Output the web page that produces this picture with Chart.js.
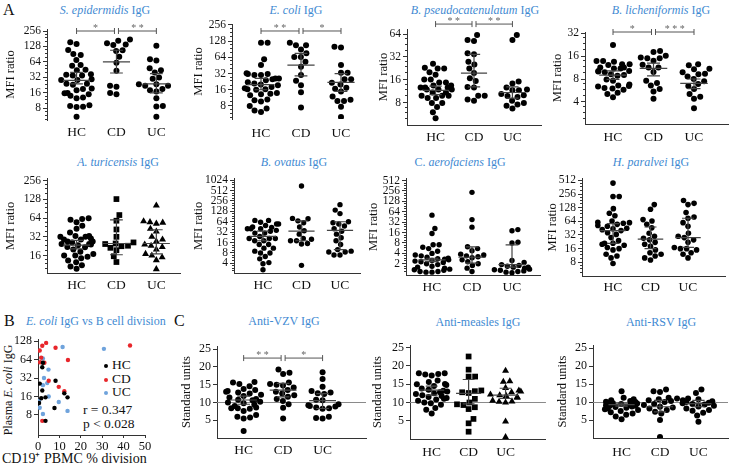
<!DOCTYPE html>
<html>
<head>
<meta charset="utf-8">
<script src="https://cdn.jsdelivr.net/npm/chart.js@4.4.0/dist/chart.umd.min.js"></script>
<style>
  body { margin: 0; background: #fff; }
  #stage { position: relative; width: 732px; height: 465px; overflow: hidden; font-family: 'Liberation Serif', 'Times New Roman', serif; color: #111; }
  #stage canvas { position: absolute; }
  .t { position: absolute; color: #3f8ad2; font-size: 12px; white-space: nowrap; transform: translate(-50%, -50%); }
  .tl { position: absolute; color: #3f8ad2; font-size: 12px; white-space: nowrap; transform: translate(0, -50%); }
  .lab { position: absolute; font-size: 16px; transform: translate(0, -50%); }
  .txt { position: absolute; font-size: 13.5px; white-space: nowrap; transform: translate(0, -50%); }
  .dot { display: inline-block; width: 4px; height: 4px; border-radius: 50%; margin-right: 4px; vertical-align: middle; }
  .yt { position: absolute; font-size: 12px; white-space: nowrap; transform: translate(-50%, -50%) rotate(-90deg); }
</style>
</head>
<body>
<div id="stage">
  <div class="lab" style="left:3px;top:10px">A</div>
  <div class="t" style="left:105px;top:10px"><i>S. epidermidis</i> IgG</div>
  <div class="t" style="left:296px;top:10px"><i>E. coli</i> IgG</div>
  <div class="t" style="left:475px;top:10px"><i>B. pseudocatenulatum</i> IgG</div>
  <div class="t" style="left:661px;top:10px"><i>B. licheniformis</i> IgG</div>
  <div class="t" style="left:118px;top:162px"><i>A. turicensis</i> IgG</div>
  <div class="t" style="left:294px;top:162px"><i>B. ovatus</i> IgG</div>
  <div class="t" style="left:460px;top:162px">C. <i>aerofaciens</i> IgG</div>
  <div class="t" style="left:651px;top:162px"><i>H. paralvei</i> IgG</div>
  <div class="lab" style="left:4px;top:321px">B</div>
  <div class="tl" style="left:26px;top:321px"><i>E. coli</i> IgG vs B cell division</div>
  <div class="lab" style="left:174px;top:321px">C</div>
  <div class="t" style="left:284px;top:321px">Anti-VZV IgG</div>
  <div class="t" style="left:478px;top:322px">Anti-measles IgG</div>
  <div class="t" style="left:661px;top:322px">Anti-RSV IgG</div>
  <div class="yt" style="left:8px;top:390px">Plasma <i>E. coli</i> IgG</div>
  <div class="txt" style="left:2px;top:457px;font-size:14px">CD19⁺ PBMC % division</div>
  <div class="txt" style="left:104px;top:365px"><span class="dot" style="background:#000"></span>HC</div>
  <div class="txt" style="left:104px;top:379px"><span class="dot" style="background:#e8262b"></span>CD</div>
  <div class="txt" style="left:104px;top:392px"><span class="dot" style="background:#6fa3dc"></span>UC</div>
  <div class="txt" style="left:83px;top:410px">r = 0.347</div>
  <div class="txt" style="left:83px;top:424px">p &lt; 0.028</div>
</div>
<script>
const groups = ['HC', 'CD', 'UC'];

// S. epidermidis
const sEpiHC = [154, 143, 109, 91, 87, 70, 56, 54, 45, 44, 37, 36, 35, 35, 29.5, 28.5, 28.5, 24, 24, 23, 19.5, 19, 18, 16, 15.8, 15, 14, 13, 12.6, 9.2, 8.9, 8.6, 8.5, 5.5];
const sEpiCD = [175, 166, 148, 140, 137, 108, 105, 81, 62, 43, 22, 21, 16, 15];
const sEpiUC = [132, 72, 68, 48, 44, 40, 32, 30, 23.5, 23.5, 22, 22, 19, 18, 17, 12.6, 8.9, 8.7, 5.5];
const sEpiBars = [[24, 28, 40], [39, 64, 108], [16, 24, 38]];
const sEpiSig = ['*', '**'];
const sEpiTicks = [8, 16, 32, 64, 128, 256];

// E. coli
const eColiHC = [120, 120, 59, 46, 32.6, 31.5, 31.5, 30, 30, 26, 26, 25, 24, 22, 21, 20, 19.5, 18, 17, 16.3, 16.3, 16, 14, 13.5, 13.2, 12.6, 10.5, 10.2, 9.7, 8, 7.2, 6.6, 6.2];
const eColiCD = [120, 108, 108, 90, 76, 65, 65, 53, 43, 30, 23.5, 19.5, 14.4, 7.5];
const eColiUC = [101, 98, 46, 33, 33, 25, 25, 21.5, 20, 17.5, 16.8, 14.8, 12, 10.4, 9.9, 9.9, 7.7, 5];
const eColiBars = [[16, 20, 26], [29, 46, 76], [15, 22, 32]];
const eColiSig = ['**', '*'];
const eColiTicks = [8, 16, 32, 64, 128, 256];

// B. pseudocatenulatum
const bPseHC = [26, 23.1, 22.6, 22.6, 20.1, 18.7, 16.2, 16.2, 14.8, 14.8, 13.5, 13.5, 12.7, 12.7, 12.7, 11.9, 11.9, 11.9, 10.9, 10.9, 9.9, 9.9, 9.9, 9.2, 9.2, 7.9, 7.9, 7.0, 6.0, 5.0];
const bPseCD = [62, 53.5, 52, 35.7, 34.7, 27.6, 25.5, 22.5, 19.6, 16.8, 15.4, 12.9, 12.7, 9.9, 9.9, 8.8, 8.5];
const bPseUC = [62, 53.5, 15.2, 14.3, 12.7, 11.9, 11.7, 11.7, 10.4, 10, 9.8, 9.5, 8.5, 7.9, 7.6, 7.3, 6.7];
const bPseBars = [[10.2, 11.6, 13.2], [12.9, 19.6, 34.5], [9.2, 10.9, 12.9]];
const bPseSig = ['**', '**'];
const bPseTicks = [8, 16, 32, 64];

// B. licheniformis
const bLicHC = [22.3, 13.8, 13.8, 13.5, 12.5, 12.5, 12.2, 11.3, 11.3, 11, 11, 10.2, 10.2, 10, 9.8, 9.2, 9, 8.8, 7.9, 7.6, 6.8, 6.6, 6.5, 6.4, 6.1, 6, 5.8, 5.3, 5.1, 4.6];
const bLicCD = [18.6, 18.1, 16.1, 15.3, 14.9, 14.9, 13.9, 12.3, 11.3, 11.3, 9.9, 7.6, 7.1, 6.6, 5.9, 5.5, 4.4];
const bLicUC = [12.5, 12.1, 10.9, 10.7, 9.8, 9.4, 9.2, 8.6, 8.0, 7.5, 6.9, 6.5, 5.9, 5.1, 4.7, 4.4, 3.3];
const bLicBars = [[7.9, 9, 10.2], [8.8, 11, 12.9], [6.0, 7.0, 8.0]];
const bLicSig = ['*', '***'];
const bLicTicks = [4, 8, 16, 32];

// A. turicensis
const aTurHC = [63.5, 62, 60, 55, 48, 43, 37.5, 33, 33, 32, 32, 30, 29, 29, 27, 27, 26, 24.5, 24.5, 24, 23.5, 22, 21.8, 20, 18.5, 17, 16, 16, 15.3, 14.5, 13.3, 12.5, 11.2, 10.7, 9.8];
const aTurCD = [129, 71.5, 58, 42, 32, 26, 25, 24.5, 23, 22.6, 21.3, 19.5, 15.6, 12.6];
const aTurUC = [102, 57, 55, 54, 52, 43, 39, 32, 29, 27, 24, 23, 22, 20, 17, 16, 15, 13.5, 9.7];
const aTurBars = [[20.5, 23.5, 28], [16.5, 25, 60], [17, 25, 41.5]];
const aTurTicks = [16, 32, 64, 128, 256];

// B. ovatus
const bOvaHC = [70, 70, 62, 55, 55, 50, 45, 44, 40, 40, 40, 36, 34, 30, 30, 24, 21, 21, 21, 18, 18, 14, 14, 11, 11, 9, 8, 8, 6.3, 5.4, 4.2, 3.9, 2.6];
const bOvaCD = [695, 80, 78, 68, 60, 45, 35, 28, 21, 20, 18, 18, 15, 14.5, 3.5];
const bOvaUC = [200, 139, 110, 64, 60, 55, 48, 40, 34, 28, 22, 18, 14, 10, 9, 8.5, 8.5, 7, 7];
const bOvaBars = [[18, 24, 34], [18, 34, 68], [10, 36, 64]];
const bOvaTicks = [4, 8, 16, 32, 64, 128, 256, 512, 1024];

// C. aerofaciens
const cAerHC = [51, 21, 15, 7.1, 7.1, 6, 5.5, 4.6, 4, 3.6, 3.4, 3.1, 2.9, 2.8, 2.7, 2.6, 2.5, 2.4, 2.3, 2.2, 2.0, 1.9, 1.7, 1.6, 1.5, 1.4, 1.35, 1.3, 1.2, 1.2, 1.15, 1.15];
const cAerCD = [233, 38, 23, 6.2, 5.5, 4.8, 3.8, 3.6, 3.4, 3.2, 3.0, 2.6, 2.3, 2.0, 1.8, 1.5, 1.2];
const cAerUC = [19.5, 18, 8.4, 8, 2.5, 2.2, 1.9, 1.8, 1.7, 1.6, 1.6, 1.5, 1.4, 1.35, 1.3, 1.25, 1.2, 1.15, 1.1];
const cAerBars = [[2.3, 2.6, 2.9], [2.1, 3.1, 6.2], [1.6, 1.9, 7.1]];
const cAerTicks = [2, 4, 8, 16, 32, 64, 128, 256, 512];

// H. paralvei
const hParHC = [448, 227, 227, 122, 97, 85, 65, 61, 60, 58, 55, 52, 50, 45, 44, 42, 40, 36, 33, 28, 24, 21, 21, 20, 19, 17, 16, 15, 12, 11, 10, 7.5];
const hParCD = [150, 118, 70, 65, 55, 46, 35, 30, 27, 25, 22, 20, 18, 15, 13, 12, 11, 10, 9];
const hParUC = [185, 160, 150, 100, 80, 75, 60, 50, 35, 30, 28, 25, 22, 17, 16, 16, 15, 13, 12, 10];
const hParBars = [[21, 40, 57], [16, 26, 48], [17, 28, 75]];
const hParTicks = [8, 16, 32, 64, 128, 256, 512];

// B: E. coli IgG vs CD19+ division
const divHCx = [2.3, 2, 0.8, 2, 3.5, 1.5, 0.5, 8.2, 12.3, 13.8, 7.7, 3.5];
const divHCy = [57, 48, 26, 20, 15.5, 15, 12.5, 29, 18, 15.5, 10.4, 6.4];
const divCDx = [0.8, 2, 3.8, 8.2, 1.5, 3, 1, 14, 5, 9.7, 12.3, 2, 43];
const divCDy = [90, 108, 120, 100, 69, 57, 58, 63, 29, 23, 19.5, 6.4, 109];
const divUCx = [11.5, 30.8, 2.3, 4.9, 2.8, 4.3, 2.3, 5, 0.5, 0.8, 9.7, 13.8, 2.3];
const divUCy = [103, 96, 67, 44, 32, 26.5, 24.5, 16, 13.5, 10.5, 13, 9.3, 8.3];
const divXTicks = [0, 10, 20, 30, 40, 50];
const divYTicks = [8, 16, 32, 64, 128];

// C: vaccine antigens
const vzvHC = [15.8, 15.6, 15.2, 14.6, 13.8, 13.5, 13.2, 13, 12.8, 12.5, 12.2, 11.8, 11.4, 11, 10.8, 10.6, 10.2, 10, 9.8, 9.4, 9, 8.6, 8.4, 8.4, 8.2, 7.6, 6.5, 6, 5.8, 5.5, 2];
const vzvCD = [19.3, 18.4, 18, 15.6, 15.2, 15, 14.8, 14.2, 13.5, 13, 12.5, 12, 11.6, 11, 10.4, 9.5, 8.5, 5.5];
const vzvUC = [18.5, 16.6, 14.4, 13.2, 12.8, 12.6, 12.4, 10.8, 10.6, 9.5, 9.2, 9, 8.9, 8.6, 8.4, 8.2, 6, 5.6, 5.5];
const vzvBars = [[9.5, 10.7, 11.8], [11.6, 13.5, 15.4], [8.3, 10.5, 12.5]];
const vzvSig = ['**', '*'];

const meaHC = [18, 18, 17.8, 17.7, 17.4, 16, 15.6, 15.1, 15, 14.8, 14.5, 13.8, 13.5, 13.2, 13, 12.8, 12.5, 12.3, 12, 11.8, 11.5, 11.2, 11, 10.8, 10.5, 10, 9.8, 9.4, 8.5, 8, 7];
const meaCD = [22.6, 19, 17.1, 17.1, 13.3, 13.1, 12.8, 12.6, 11, 10, 9.5, 9.3, 8.7, 8.2, 5.5, 4.3, 2];
const meaUC = [18.7, 15.8, 15.7, 14, 13.3, 13, 12.8, 12.2, 12, 11.8, 11.5, 11.3, 10.5, 10.3, 10.2, 10, 4.8, 0.5];
const meaBars = [[12, 13.4, 14.5], [9.6, 12.5, 16.3], [11.1, 12, 13.9]];

const rsvHC = [13, 11.2, 10.8, 10.5, 10.3, 10.1, 10, 9.9, 9.8, 9.7, 9.6, 9.5, 9.4, 9.3, 9.2, 9.1, 9, 8.9, 8.8, 8.6, 8.4, 8.2, 8, 7.8, 7.5, 7.2, 6.8, 6.5, 6, 5.2];
const rsvCD = [13.5, 13, 12.8, 11.2, 11, 10.8, 10.5, 10.3, 10, 9.5, 9.2, 8.7, 8.5, 8.2, 7.8, 7.3, 6.8, 5, 0.3];
const rsvUC = [13.5, 12.5, 11, 10.8, 10.5, 10.2, 10, 9.8, 9.7, 9.5, 9.3, 9, 8.8, 8.2, 7.8, 7.6, 7, 6.3, 4.5];
const rsvBars = [[8.9, 9.3, 9.7], [7.3, 8.7, 10.5], [8.7, 9.6, 10.5]];
const unitTicks = [5, 10, 15, 20, 25];

const FONT = "'Liberation Serif', 'Times New Roman', serif";
const circles = ['circle', 'circle', 'circle'];
const shapes = ['circle', 'rect', 'triangle'];

// layout of each small plot (pixels in the 732x465 page)
const panels = [
  { box: [0, 15, 185, 128], axisX: 47, top: 29, bottom: 120, right: 183, cat: [77, 116, 158], labelY: 132, min: 4.75, max: 280, ticks: sEpiTicks, tpad: 2.8, xLine: false, series: [sEpiHC, sEpiCD, sEpiUC], bars: sEpiBars, sig: sEpiSig, sigY: 256 },
  { box: [185, 15, 180, 128], axisX: 232, top: 24, bottom: 119, right: 358, cat: [261, 299, 341], labelY: 133, min: 4.58, max: 267, ticks: eColiTicks, tpad: 5.8, xLine: false, series: [eColiHC, eColiCD, eColiUC], bars: eColiBars, sig: eColiSig, sigY: 198 },
  { box: [365, 15, 180, 128], axisX: 407, top: 29, bottom: 125, right: 543, cat: [436, 472, 514], labelY: 137, min: 4.07, max: 74.6, ticks: bPseTicks, tpad: 10.8, xLine: true, series: [bPseHC, bPseCD, bPseUC], bars: bPseBars, sig: bPseSig, sigY: 86.6 },
  { box: [545, 15, 187, 128], axisX: 585, top: 32, bottom: 124, right: 728, cat: [613, 652, 694], labelY: 137, min: 2.06, max: 33, ticks: bLicTicks, tpad: 4.8, xLine: true, series: [bLicHC, bLicCD, bLicUC], bars: bLicBars, sig: bLicSig, sigY: 33 },
  { box: [0, 170, 185, 125], axisX: 47, top: 175, bottom: 273, right: 183, cat: [77, 117, 158], labelY: 285, min: 8.4, max: 272, ticks: aTurTicks, tpad: 2.8, xLine: true, series: [aTurHC, aTurCD, aTurUC], bars: aTurBars, shapes: shapes },
  { box: [185, 170, 180, 125], axisX: 234, top: 176, bottom: 273, right: 360, cat: [263, 302, 340], labelY: 285, min: 2.1, max: 1112, ticks: bOvaTicks, tpad: 5.8, xLine: true, series: [bOvaHC, bOvaCD, bOvaUC], bars: bOvaBars, r: 2.7 },
  { box: [365, 170, 180, 125], axisX: 406, top: 175, bottom: 275, right: 540, cat: [432, 471, 512], labelY: 287, min: 0.95, max: 570, ticks: cAerTicks, tpad: 0.8, xLine: true, series: [cAerHC, cAerCD, cAerUC], bars: cAerBars, r: 2.7 },
  { box: [545, 170, 187, 125], axisX: 582, top: 175, bottom: 276, right: 725, cat: [613, 650, 688], labelY: 287, min: 3.98, max: 554, ticks: hParTicks, tpad: 0, xLine: true, series: [hParHC, hParCD, hParUC], bars: hParBars, r: 2.8 },
  { box: [175, 335, 195, 130], axisX: 217, top: 346, bottom: 438, right: 368, cat: [244, 284, 324], labelY: 450, min: 0, max: 25.9, linear: true, ticks: unitTicks, tpad: 3.8, xLine: true, series: [vzvHC, vzvCD, vzvUC], bars: vzvBars, sig: vzvSig, sigY: 22.5, ref: 10, yTitle: 'Standard units' },
  { box: [370, 335, 180, 130], axisX: 410, top: 345, bottom: 439, right: 548, cat: [432, 470, 507], labelY: 452, min: 0, max: 25.75, linear: true, ticks: unitTicks, tpad: 0, xLine: true, series: [meaHC, meaCD, meaUC], bars: meaBars, ref: 10, yTitle: 'Standard units', shapes: shapes },
  { box: [545, 335, 187, 130], axisX: 593, top: 345, bottom: 438, right: 730, cat: [622, 662, 700], labelY: 452, min: 0, max: 25.9, linear: true, ticks: unitTicks, tpad: 9.8, xLine: true, series: [rsvHC, rsvCD, rsvUC], bars: rsvBars, ref: 10, yTitle: 'Standard units' }
];

// median / range bars, significance brackets, reference line, minor ticks
const decor = {
  id: 'decor',
  beforeDatasetsDraw(chart, args, o) {
    if (o.ref == null) return;
    const { ctx, chartArea: a, scales: { y } } = chart;
    const py = Math.round(y.getPixelForValue(o.ref)) + 0.5;
    ctx.save();
    ctx.strokeStyle = '#8a8a8a';
    ctx.lineWidth = 1;
    ctx.beginPath(); ctx.moveTo(a.left, py); ctx.lineTo(a.right, py); ctx.stroke();
    ctx.restore();
  },
  afterDatasetsDraw(chart, args, o) {
    const { ctx, scales: { x, y } } = chart;
    ctx.save();
    ctx.strokeStyle = '#444';
    ctx.lineWidth = 1.2;
    (o.bars || []).forEach((b, g) => {
      const xc = x.getPixelForValue(g);
      const mw = x.getPixelForValue(g + 0.34) - xc;
      const cw = x.getPixelForValue(g + 0.16) - xc;
      const yl = y.getPixelForValue(b[0]), ym = y.getPixelForValue(b[1]), yh = y.getPixelForValue(b[2]);
      ctx.beginPath();
      ctx.moveTo(xc - mw, ym); ctx.lineTo(xc + mw, ym);
      ctx.moveTo(xc, yl); ctx.lineTo(xc, yh);
      ctx.moveTo(xc - cw, yl); ctx.lineTo(xc + cw, yl);
      ctx.moveTo(xc - cw, yh); ctx.lineTo(xc + cw, yh);
      ctx.stroke();
    });
    if (o.sig) {
      const py = y.getPixelForValue(o.sigY);
      ctx.strokeStyle = '#555';
      ctx.lineWidth = 1;
      ctx.fillStyle = '#666';
      ctx.font = '10px ' + FONT;
      ctx.textAlign = 'center';
      ctx.textBaseline = 'middle';
      o.sig.forEach((s, k) => {
        const x1 = x.getPixelForValue(k) + (k === 1 ? 2 : 0);
        const x2 = x.getPixelForValue(k + 1) - (k === 0 ? 2 : 0);
        ctx.beginPath();
        ctx.moveTo(x1, py); ctx.lineTo(x2, py);
        ctx.moveTo(x1, py - 3); ctx.lineTo(x1, py + 3);
        ctx.moveTo(x2, py - 3); ctx.lineTo(x2, py + 3);
        ctx.stroke();
        ctx.fillText(s.split('').join(' '), (x1 + x2) / 2, py - 3);
      });
    }
    ctx.restore();
  },
  afterDraw(chart, args, o) {
    if (!o.minor) return;
    const { ctx, scales: { y } } = chart;
    const ax = y.right;
    ctx.save();
    ctx.strokeStyle = '#333';
    ctx.lineWidth = 1;
    ctx.beginPath();
    for (let v = o.minor[0] / 2; v < y.max; v *= 2) {
      for (let k = 1; k < 4; k++) {
        const m = v * (1 + k / 4);
        if (m <= y.min || m >= y.max) continue;
        const p = Math.round(y.getPixelForValue(m)) + 0.5;
        ctx.moveTo(ax - 2, p); ctx.lineTo(ax, p);
      }
    }
    ctx.stroke();
    ctx.restore();
  }
};
Chart.register(decor);

// spread points sideways so equal values do not hide each other
function swarm(vals, toPx, d, s, lim) {
  const order = vals.map((v, i) => i).sort((a, b) => toPx(vals[a]) - toPx(vals[b]));
  const placed = [];
  const off = [];
  order.forEach((i, n) => {
    const py = toPx(vals[i]);
    const near = placed.filter(p => Math.abs(p.y - py) < d);
    const cands = [0];
    near.forEach(p => {
      const w = Math.sqrt(d * d - (p.y - py) * (p.y - py));
      cands.push(p.x - w, p.x + w);
    });
    const ok = cands.filter(c => near.every(p => (p.x - c) ** 2 + (p.y - py) ** 2 >= d * d - 0.01));
    ok.sort((a, b) => Math.abs(a) - Math.abs(b) || (n % 2 ? a - b : b - a));
    let xo = ok.length ? ok[0] : 0;
    if (Math.abs(xo) > lim) xo = (n % 2 ? 1 : -1) * lim * (0.5 + (n % 5) / 10);
    placed.push({ x: xo, y: py });
    off[i] = xo / s;
  });
  return off;
}

function addCanvas(box) {
  const cv = document.createElement('canvas');
  cv.width = box[2];
  cv.height = box[3];
  cv.style.left = box[0] + 'px';
  cv.style.top = box[1] + 'px';
  document.getElementById('stage').appendChild(cv);
  return cv;
}

panels.forEach(p => {
  const cv = addCanvas(p.box);
  const s = (p.cat[2] - p.cat[0]) / 2;
  const xmin = -(p.cat[0] - p.axisX) / s;
  const xmax = 2 + (p.right - p.cat[2]) / s;
  const h = p.bottom - p.top;
  const toPx = p.linear
    ? v => (v - p.min) / (p.max - p.min) * h
    : v => Math.log(v / p.min) / Math.log(p.max / p.min) * h;
  const r = p.r || 3;
  const mk = p.shapes || circles;
  const tickFont = p.linear ? 12 : 11.5;
  const datasets = p.series.map((vals, g) => {
    const rr = mk[g] === 'circle' ? r : r * 1.35;
    const off = swarm(vals, toPx, 2 * r + 0.6, s, 0.45 * s);
    return {
      data: vals.map((v, i) => ({ x: g + off[i], y: v })),
      pointStyle: mk[g],
      pointRadius: rr,
      backgroundColor: '#000',
      borderColor: '#000',
      borderWidth: 0
    };
  });
  new Chart(cv, {
    type: 'scatter',
    data: { datasets },
    options: {
      responsive: false,
      animation: false,
      events: [],
      layout: { padding: { top: p.top - p.box[1], right: p.box[0] + p.box[2] - p.right, left: 0, bottom: 0 } },
      plugins: {
        legend: { display: false },
        tooltip: { enabled: false },
        decor: { bars: p.bars, sig: p.sig, sigY: p.sigY, ref: p.ref, minor: p.linear ? null : p.ticks }
      },
      scales: {
        x: {
          type: 'linear', min: xmin, max: xmax,
          afterBuildTicks: sc => { sc.ticks = [0, 1, 2].map(v => ({ value: v })); },
          afterFit: sc => { sc.height = p.box[1] + p.box[3] - p.bottom; },
          ticks: { callback: v => groups[v], font: { family: FONT, size: 13.5 }, color: '#111', padding: p.labelY - p.bottom - 8.1, maxRotation: 0, minRotation: 0, autoSkip: false },
          grid: { display: false, drawTicks: false },
          border: { display: p.xLine, color: '#333', width: 1 }
        },
        y: {
          type: p.linear ? 'linear' : 'logarithmic', min: p.min, max: p.max,
          afterBuildTicks: sc => { sc.ticks = p.ticks.map(v => ({ value: v })); },
          afterFit: sc => { sc.width = p.axisX - p.box[0]; },
          ticks: { callback: v => String(v), font: { family: FONT, size: tickFont }, color: '#111', padding: 2, autoSkip: false },
          grid: { drawOnChartArea: false, drawTicks: true, tickLength: 4, color: '#333', tickColor: '#333' },
          border: { color: '#333', width: 1 },
          title: { display: true, text: p.yTitle || 'MFI ratio', font: { family: FONT, size: 12.5 }, color: '#111', padding: { top: p.tpad, bottom: 0 } }
        }
      }
    }
  });
});

// panel B: E. coli IgG against B cell division
(function () {
  const box = [0, 330, 165, 135];
  const cv = addCanvas(box);
  const pts = (xs, ys) => xs.map((x, i) => ({ x: x, y: ys[i] }));
  const ds = (data, c) => ({ data, backgroundColor: c, borderColor: c, borderWidth: 0, pointRadius: 2.2 });
  new Chart(cv, {
    type: 'scatter',
    data: {
      datasets: [
        ds(pts(divHCx, divHCy), '#000'),
        ds(pts(divCDx, divCDy), '#e8262b'),
        ds(pts(divUCx, divUCy), '#6fa3dc')
      ]
    },
    options: {
      responsive: false,
      animation: false,
      events: [],
      layout: { padding: { top: 8, right: 20, left: 0, bottom: 0 } },
      plugins: { legend: { display: false }, tooltip: { enabled: false } },
      scales: {
        x: {
          type: 'linear', min: 0, max: 50,
          afterBuildTicks: sc => { sc.ticks = divXTicks.map(v => ({ value: v })); },
          afterFit: sc => { sc.height = 30; },
          ticks: { font: { family: FONT, size: 12.5 }, color: '#111', padding: 1, maxRotation: 0 },
          grid: { drawOnChartArea: false, drawTicks: true, tickLength: 3, color: '#333' },
          border: { color: '#333' }
        },
        y: {
          type: 'logarithmic', min: 3.76, max: 138,
          afterBuildTicks: sc => { sc.ticks = divYTicks.map(v => ({ value: v })); },
          afterFit: sc => { sc.width = 38; },
          ticks: { callback: v => String(v), font: { family: FONT, size: 12 }, color: '#111', padding: 2, autoSkip: false },
          grid: { drawOnChartArea: false, drawTicks: true, tickLength: 4, color: '#333' },
          border: { color: '#333' }
        }
      }
    }
  });
})();
</script>
</body>
</html>
